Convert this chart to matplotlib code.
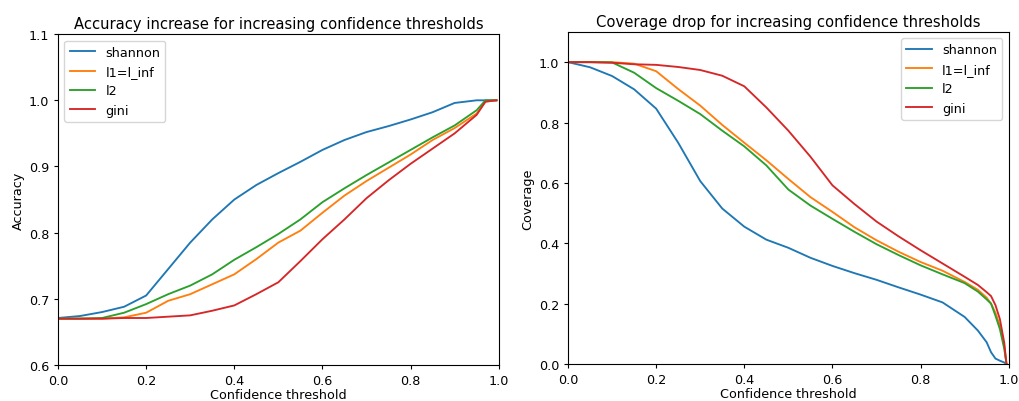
from matplotlib import pyplot as plt

# accuracy vs confidence threshold (left panel)
acc_thr = [0, .05, .1, .15, .2, .25, .3, .35, .4, .45, .5, .55, .6, .65, .7,
           .75, .8, .85, .9, .95, .97, .995]
acc_shannon = [0.671, 0.674, 0.680, 0.688, 0.705, 0.745, 0.785, 0.820, 0.850, 0.872,
               0.890, 0.907, 0.925, 0.940, 0.952, 0.961, 0.971, 0.982, 0.996, 1.0, 1.0, 1.0]
acc_l1 = [0.670, 0.670, 0.670, 0.672, 0.679, 0.697, 0.707, 0.722, 0.737, 0.760,
          0.785, 0.803, 0.830, 0.856, 0.878, 0.898, 0.918, 0.940, 0.958, 0.980, 0.998, 1.0]
acc_l2 = [0.670, 0.670, 0.671, 0.679, 0.692, 0.707, 0.720, 0.737, 0.759, 0.778,
          0.798, 0.820, 0.846, 0.867, 0.887, 0.906, 0.925, 0.944, 0.962, 0.985, 1.0, 1.0]
acc_gini = [0.670, 0.670, 0.670, 0.671, 0.671, 0.673, 0.675, 0.682, 0.690, 0.707,
            0.725, 0.757, 0.790, 0.820, 0.852, 0.879, 0.904, 0.927, 0.950, 0.978, 0.998, 1.0]

# coverage vs confidence threshold (right panel)
cov_thr = [0, .05, .1, .15, .2, .25, .3, .35, .4, .45, .5, .55, .6, .65, .7,
           .75, .8, .85, .9, .93, .95, .96, .97, .98, .99, .995]
cov_shannon = [1.0, 0.983, 0.954, 0.910, 0.846, 0.733, 0.606, 0.515, 0.455, 0.412,
               0.385, 0.352, 0.325, 0.301, 0.279, 0.254, 0.230, 0.204, 0.156, 0.111,
               0.072, 0.039, 0.018, 0.011, 0.005, 0.0]
cov_l1 = [1.0, 1.0, 1.0, 0.995, 0.970, 0.911, 0.856, 0.792, 0.733, 0.675,
          0.613, 0.553, 0.504, 0.453, 0.410, 0.372, 0.338, 0.309, 0.272, 0.246,
          0.220, 0.200, 0.170, 0.127, 0.060, 0.0]
cov_l2 = [1.0, 1.0, 0.999, 0.965, 0.914, 0.872, 0.828, 0.773, 0.721, 0.658,
          0.578, 0.525, 0.481, 0.438, 0.397, 0.361, 0.327, 0.297, 0.268, 0.240,
          0.214, 0.200, 0.160, 0.116, 0.050, 0.0]
cov_gini = [1.0, 1.0, 0.998, 0.993, 0.991, 0.984, 0.974, 0.955, 0.920, 0.850,
            0.773, 0.687, 0.592, 0.530, 0.472, 0.423, 0.377, 0.333, 0.289, 0.262,
            0.238, 0.225, 0.195, 0.149, 0.070, 0.0]

labels = ['shannon', 'l1=l_inf', 'l2', 'gini']

plt.rcParams['font.size'] = 9.2
plt.rcParams['lines.linewidth'] = 1.35
plt.rcParams['xtick.major.size'] = 3
plt.rcParams['ytick.major.size'] = 3

fig = plt.figure(figsize=(10.2, 4.02), dpi=100)

ax1 = fig.add_axes([0.0569, 0.0896, 0.432, 0.823])
for ys, lab in zip([acc_shannon, acc_l1, acc_l2, acc_gini], labels):
    ax1.plot(acc_thr, ys, label=lab)
ax1.set_xlim(0, 1)
ax1.set_ylim(0.6, 1.1)
ax1.set_xlabel('Confidence threshold', labelpad=1)
ax1.set_ylabel('Accuracy', labelpad=3)
ax1.set_title('Accuracy increase for increasing confidence thresholds',
              fontsize=10.6, pad=4.5)
ax1.legend(loc='upper left')

ax2 = fig.add_axes([0.5569, 0.092, 0.432, 0.826])
for ys, lab in zip([cov_shannon, cov_l1, cov_l2, cov_gini], labels):
    ax2.plot(cov_thr, ys, label=lab)
ax2.set_xlim(0, 1)
ax2.set_ylim(0, 1.1)
ax2.set_xlabel('Confidence threshold', labelpad=1)
ax2.set_ylabel('Coverage', labelpad=3)
ax2.set_title('Coverage drop for increasing confidence thresholds',
              fontsize=10.6, pad=4.5)
ax2.legend(loc='upper right')

fig.savefig('out.png', dpi=100)
